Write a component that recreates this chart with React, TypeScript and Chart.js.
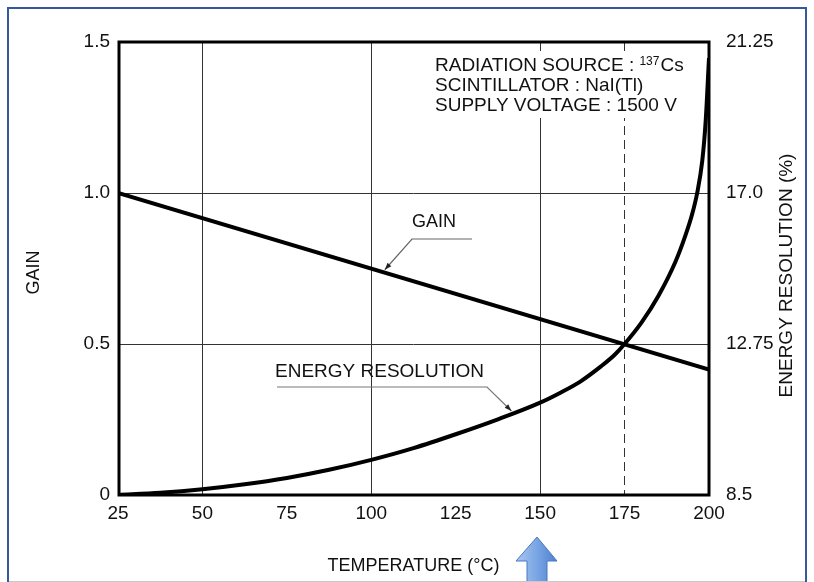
import React, { useEffect, useRef } from "react";
import { Chart, registerables } from "chart.js";

Chart.register(...registerables);

// Gain relative to 25 °C (straight line between the two end temperatures)
const gainTemps = [25, 200];
const gainValues = [1.0, 0.415];

// Energy resolution (%) against temperature
const resolutionTemps = [25, 37.5, 50, 62.5, 75, 87.5, 100, 112.5, 125, 137.5, 150, 156, 162, 168, 172, 175, 180, 185, 190, 193, 195, 196.5, 198, 199, 200];
const resolutionValues = [8.5, 8.56, 8.66, 8.8, 8.98, 9.21, 9.49, 9.82, 10.21, 10.63, 11.1, 11.38, 11.7, 12.12, 12.44, 12.75, 13.35, 14.1, 15.05, 15.8, 16.4, 17.0, 17.9, 19.0, 20.8];

// Axis ticks and the temperatures that carry a grid line
const temperatureTicks = [25, 50, 75, 100, 125, 150, 175, 200];
const gridTemps = [50, 100, 150, 175];
const dashedTemps = [175];
const gainTicks = [0, 0.5, 1.0, 1.5];
const gainTickLabels = ["0", "0.5", "1.0", "1.5"];
const resolutionTicks = [8.5, 12.75, 17.0, 21.25];
const resolutionTickLabels = ["8.5", "12.75", "17.0", "21.25"];

const conditionLines = ["SCINTILLATOR : NaI(Tl)", "SUPPLY VOLTAGE : 1500 V"];

const FONT = '"Liberation Sans", Arial, Helvetica, sans-serif';
const INK = "#111111";

function gainAt(t: number): number {
  const [t0, t1] = gainTemps;
  const [g0, g1] = gainValues;
  return g0 + ((t - t0) / (t1 - t0)) * (g1 - g0);
}

function resolutionAt(t: number): number {
  for (let i = 1; i < resolutionTemps.length; i++) {
    if (resolutionTemps[i] >= t) {
      const f = (t - resolutionTemps[i - 1]) / (resolutionTemps[i] - resolutionTemps[i - 1]);
      return resolutionValues[i - 1] + f * (resolutionValues[i] - resolutionValues[i - 1]);
    }
  }
  return resolutionValues[resolutionValues.length - 1];
}

function arrowHead(ctx: CanvasRenderingContext2D, fx: number, fy: number, tx: number, ty: number, len: number, half: number) {
  const ang = Math.atan2(ty - fy, tx - fx);
  ctx.beginPath();
  ctx.moveTo(tx, ty);
  ctx.lineTo(tx - len * Math.cos(ang) + half * Math.sin(ang), ty - len * Math.sin(ang) - half * Math.cos(ang));
  ctx.lineTo(tx - len * Math.cos(ang) - half * Math.sin(ang), ty - len * Math.sin(ang) + half * Math.cos(ang));
  ctx.closePath();
  ctx.fill();
}

const decorations = {
  id: "decorations",
  beforeDatasetsDraw(chart: any) {
    const { ctx, chartArea } = chart;
    // white panel for the measurement conditions
    ctx.save();
    ctx.fillStyle = "#ffffff";
    ctx.fillRect(chartArea.left + 310, chartArea.top + 9, 274, 67);
    ctx.restore();
  },
  afterDatasetsDraw(chart: any) {
    const { ctx, chartArea, scales } = chart;
    const xs = scales.x;
    const yg = scales.y;
    const ye = scales.yE;
    ctx.save();

    // plot frame
    ctx.strokeStyle = "#000";
    ctx.lineWidth = 3;
    ctx.strokeRect(chartArea.left + 1, chartArea.top, chartArea.right - chartArea.left - 1, chartArea.bottom - chartArea.top);

    // measurement conditions
    ctx.fillStyle = INK;
    ctx.textBaseline = "middle";
    ctx.textAlign = "left";
    const tx = chartArea.left + 317;
    let ty = chartArea.top + 24;
    ctx.font = `19px ${FONT}`;
    const head = "RADIATION SOURCE : ";
    ctx.fillText(head, tx, ty);
    let cx = tx + ctx.measureText(head).width;
    ctx.font = `12px ${FONT}`;
    ctx.fillText("137", cx, ty - 4);
    cx += ctx.measureText("137").width + 1;
    ctx.font = `19px ${FONT}`;
    ctx.fillText("Cs", cx, ty);
    conditionLines.forEach((line) => {
      ty += 20;
      ctx.fillText(line, tx, ty);
    });

    // GAIN call-out
    const gT = 104;
    const gx = xs.getPixelForValue(gT);
    const gy = yg.getPixelForValue(gainAt(gT)) - 3;
    const gLabelX = 412;
    const gLineY = 239;
    ctx.font = `18px ${FONT}`;
    ctx.fillText("GAIN", gLabelX, 222);
    ctx.strokeStyle = "#666";
    ctx.lineWidth = 1.2;
    ctx.beginPath();
    ctx.moveTo(gLabelX + 60, gLineY);
    ctx.lineTo(gLabelX, gLineY);
    ctx.lineTo(gx, gy);
    ctx.stroke();
    ctx.fillStyle = "#222";
    arrowHead(ctx, gLabelX, gLineY, gx, gy, 7, 2.5);

    // ENERGY RESOLUTION call-out
    const eT = 141.5;
    const ex = xs.getPixelForValue(eT);
    const ey = ye.getPixelForValue(resolutionAt(eT)) - 3;
    const eLineY = 387;
    ctx.fillStyle = INK;
    ctx.font = `19px ${FONT}`;
    ctx.fillText("ENERGY RESOLUTION", 275, 372);
    ctx.strokeStyle = "#777";
    ctx.beginPath();
    ctx.moveTo(277, eLineY);
    ctx.lineTo(487, eLineY);
    ctx.lineTo(ex, ey);
    ctx.stroke();
    ctx.fillStyle = "#222";
    arrowHead(ctx, 487, eLineY, ex, ey, 7, 2.5);
    ctx.restore();
  },
  afterDraw(chart: any) {
    const { ctx, chartArea } = chart;
    ctx.save();
    ctx.fillStyle = INK;
    ctx.textAlign = "center";
    ctx.textBaseline = "middle";
    ctx.font = `18px ${FONT}`;
    const midY = (chartArea.top + chartArea.bottom) / 2;

    ctx.fillText("TEMPERATURE (°C)", (chartArea.left + chartArea.right) / 2, 566);

    ctx.save();
    ctx.translate(34, midY + 4);
    ctx.rotate(-Math.PI / 2);
    ctx.fillText("GAIN", 0, 0);
    ctx.restore();

    ctx.save();
    ctx.translate(787, midY + 7);
    ctx.rotate(-Math.PI / 2);
    ctx.font = `19px ${FONT}`;
    ctx.fillText("ENERGY RESOLUTION (%)", 0, 0);
    ctx.restore();

    // blue pointer below the 150 °C column
    ctx.beginPath();
    ctx.moveTo(537, 537);
    ctx.lineTo(557, 561);
    ctx.lineTo(547, 561);
    ctx.lineTo(547, 584);
    ctx.lineTo(527, 584);
    ctx.lineTo(527, 561);
    ctx.lineTo(516, 561);
    ctx.closePath();
    const grad = ctx.createLinearGradient(516, 0, 557, 0);
    grad.addColorStop(0, "#aac8f0");
    grad.addColorStop(0.5, "#7aa6e4");
    grad.addColorStop(1, "#4f80d0");
    ctx.fillStyle = grad;
    ctx.fill();
    ctx.strokeStyle = "#4a78c4";
    ctx.lineWidth = 1;
    ctx.stroke();

    // page frame
    ctx.strokeStyle = "#35599a";
    ctx.lineWidth = 2;
    ctx.beginPath();
    ctx.moveTo(8, 600);
    ctx.lineTo(8, 8);
    ctx.lineTo(806, 8);
    ctx.lineTo(806, 600);
    ctx.stroke();
    ctx.strokeStyle = "#c8c8c8";
    ctx.lineWidth = 1;
    ctx.beginPath();
    ctx.moveTo(9, 581.5);
    ctx.lineTo(805, 581.5);
    ctx.stroke();
    ctx.restore();
  },
};

export default function App() {
  const canvasRef = useRef<HTMLCanvasElement | null>(null);

  useEffect(() => {
    const canvas = canvasRef.current;
    if (!canvas) return;
    const tickFont = { family: FONT, size: 19 };
    const chart = new Chart(canvas, {
      type: "line",
      data: {
        datasets: [
          {
            label: "GAIN",
            data: gainTemps.map((t, i) => ({ x: t, y: gainValues[i] })),
            yAxisID: "y",
            borderColor: "#000",
            borderWidth: 4,
            pointRadius: 0,
            tension: 0,
          },
          {
            label: "ENERGY RESOLUTION",
            data: resolutionTemps.map((t, i) => ({ x: t, y: resolutionValues[i] })),
            yAxisID: "yE",
            borderColor: "#000",
            borderWidth: 4,
            pointRadius: 0,
            cubicInterpolationMode: "monotone",
          },
        ],
      },
      options: {
        responsive: false,
        animation: false,
        layout: { padding: { top: 42, left: 0, right: 0, bottom: 0 } },
        plugins: { legend: { display: false }, tooltip: { enabled: false } },
        scales: {
          x: {
            type: "linear",
            position: "bottom",
            min: temperatureTicks[0],
            max: temperatureTicks[temperatureTicks.length - 1],
            afterFit: (s: any) => {
              s.height = 87;
            },
            afterBuildTicks: (s: any) => {
              s.ticks = temperatureTicks.map((v) => ({ value: v }));
            },
            ticks: { padding: 7, color: INK, font: tickFont, maxRotation: 0, autoSkip: false },
            grid: {
              drawTicks: false,
              lineWidth: 1,
              color: (c: any) => (c.tick && gridTemps.includes(c.tick.value) ? "#333" : "rgba(0,0,0,0)"),
            },
            border: {
              display: false,
              dash: (c: any) => (c.tick && dashedTemps.includes(c.tick.value) ? [9, 5] : []),
            },
          },
          y: {
            position: "left",
            min: gainTicks[0],
            max: gainTicks[gainTicks.length - 1],
            afterFit: (s: any) => {
              s.width = 118;
            },
            afterBuildTicks: (s: any) => {
              s.ticks = gainTicks.map((v) => ({ value: v }));
            },
            ticks: {
              padding: 8,
              color: INK,
              font: tickFont,
              callback: (v: any) => gainTickLabels[gainTicks.indexOf(Number(v))] ?? String(v),
            },
            grid: {
              drawTicks: false,
              lineWidth: 1,
              color: (c: any) => (c.tick && c.tick.value > 0 && c.tick.value < 1.5 ? "#333" : "rgba(0,0,0,0)"),
            },
            border: { display: false },
          },
          yE: {
            position: "right",
            min: resolutionTicks[0],
            max: resolutionTicks[resolutionTicks.length - 1],
            afterFit: (s: any) => {
              s.width = 105;
            },
            afterBuildTicks: (s: any) => {
              s.ticks = resolutionTicks.map((v) => ({ value: v }));
            },
            ticks: {
              padding: 9,
              color: INK,
              font: tickFont,
              callback: (v: any) => {
                const i = resolutionTicks.findIndex((r) => Math.abs(r - Number(v)) < 1e-6);
                return i >= 0 ? resolutionTickLabels[i] : String(v);
              },
            },
            grid: { display: false },
            border: { display: false },
          },
        },
      },
      plugins: [decorations],
    } as any);
    return () => chart.destroy();
  }, []);

  return (
    <div style={{ position: "absolute", left: 0, top: 0, width: 814, height: 582, background: "#fff" }}>
      <canvas ref={canvasRef} width={814} height={582} style={{ display: "block" }} />
    </div>
  );
}
